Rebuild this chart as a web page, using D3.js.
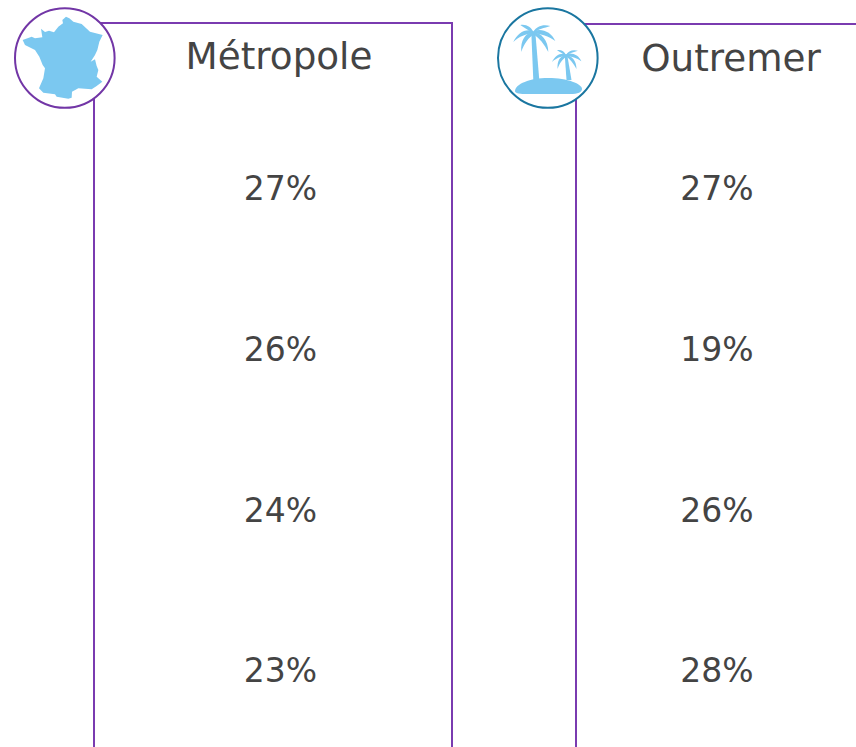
<!DOCTYPE html>
<html><head><meta charset="utf-8">
<script src="https://cdn.jsdelivr.net/npm/d3@7"></script>
<style>html,body{margin:0;padding:0;background:#fff;overflow:hidden}svg{display:block}text{font-family:"DejaVu Sans",sans-serif;fill:#444444}</style>
</head><body><svg id="c" width="856" height="747"></svg>
<script>
const panels = ["Métropole", "Outremer"];
const metropoleValues = [27, 26, 24, 23];
const outremerValues = [27, 19, 26, 28];
const rowIndex = [0, 1, 2, 3];

const purple = "#7a3bb0", ring = "#7236a6", teal = "#1a76a0", sky = "#7bc8f0";
const svg = d3.select("#c");
const y = d3.scaleLinear().domain([0, 3]).range([188.5, 670.5]);

function rows(values, cx) {
  svg.append("g").selectAll("text").data(values).join("text")
    .attr("x", cx).attr("y", (d, i) => y(rowIndex[i]))
    .attr("dy", "0.36em").attr("text-anchor", "middle")
    .attr("font-size", 33).text(d => d + "%");
}
function frame(d) {
  svg.append("path").attr("d", d).attr("fill", "none").attr("stroke", purple).attr("stroke-width", 2);
}
frame("M94,760V23H452V760");
frame("M576,760V24H870");

svg.append("text").attr("x", 279).attr("y", 69).attr("text-anchor", "middle").attr("font-size", 37.3).text(panels[0]);
svg.append("text").attr("x", 731).attr("y", 71).attr("text-anchor", "middle").attr("font-size", 37.3).text(panels[1]);
rows(metropoleValues, 280.5);
rows(outremerValues, 717);

// France icon
svg.append("circle").attr("cx", 64.8).attr("cy", 58).attr("r", 49.8).attr("fill", "#fff").attr("stroke", ring).attr("stroke-width", 2);
const france = [[198,50],[187,60],[189,70],[175,80],[162,97],[147,92],[135,96],[123,86],[127,112],[105,115],[95,110],[68,120],[75,135],[105,150],[118,170],[128,195],[135,205],[130,235],[117,265],[130,278],[165,283],[170,290],[205,296],[215,293],[216,275],[235,265],[275,268],[290,258],[307,245],[290,230],[295,210],[290,198],[285,178],[272,185],[285,165],[292,150],[298,125],[308,105],[270,95],[245,72],[220,65],[208,55]];
svg.append("path").attr("d", d3.line().x(p => p[0] / 3).y(p => p[1] / 3)(france) + "Z").attr("fill", sky);

// Island icon
svg.append("circle").attr("cx", 547.8).attr("cy", 58).attr("r", 49.8).attr("fill", "#fff").attr("stroke", teal).attr("stroke-width", 2);
const g = svg.append("g").attr("fill", sky);
g.append("path").attr("d", "M515,91 C515,84 530,78 548,78 C568,78 582,84 582,89 C582,92 578,94 570,94 L525,94 C518,94 515,93 515,91Z");
function palm(cx, cy, s, tw, bw, baseY) {
  g.append("path").attr("d", `M${cx - tw/2},${cy} L${cx + tw/2},${cy} L${cx + 3 + bw/2},${baseY} L${cx + 3 - bw/2},${baseY} Z`);
  const fronds = [
    "M0,0 C-2,-5 -7,-8 -13,-7 C-9,-4 -5,-2 0,1Z",
    "M0,-1 C-8,-4 -16,1 -20,10 C-14,4 -7,2 0,1Z",
    "M0,0 C-8,1 -13,8 -12,20 C-9,11 -5,6 1,2Z",
    "M0,0 C3,-6 10,-8 17,-6 C11,-4 5,-3 0,1Z",
    "M0,-1 C9,-4 18,0 22,9 C15,4 8,2 0,1Z",
    "M0,0 C8,1 15,8 15,20 C11,12 6,6 0,2Z"
  ];
  fronds.forEach(f => g.append("path").attr("d", f).attr("transform", `translate(${cx},${cy}) scale(${s})`));
}
palm(533.3, 32, 1, 4, 6, 80);
palm(566, 55, 0.7, 2.5, 5, 80);
</script></body></html>
